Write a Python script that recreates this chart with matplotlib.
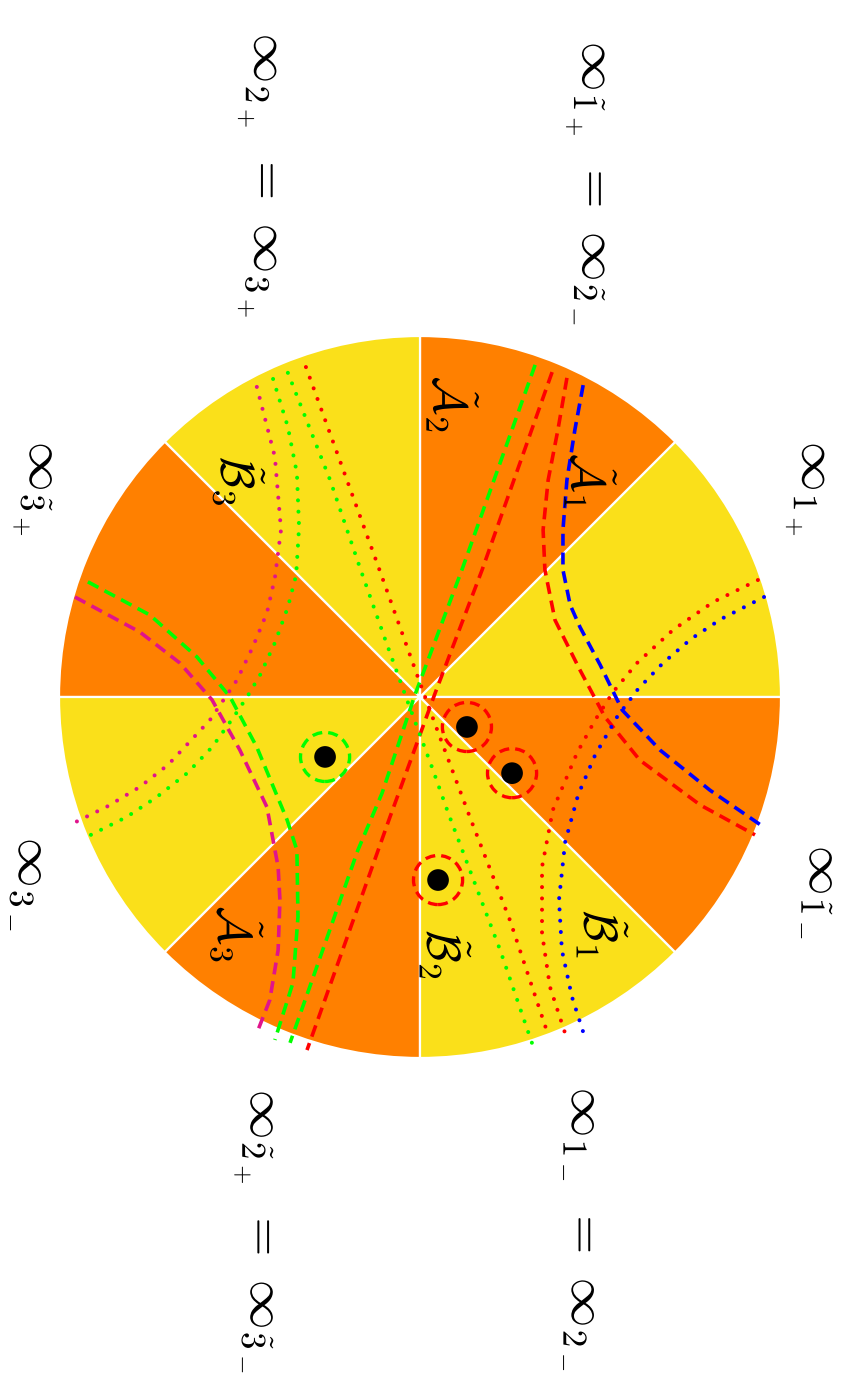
import matplotlib
matplotlib.use("Agg")
import matplotlib.pyplot as plt
import matplotlib.patheffects as pe
import numpy as np
from matplotlib.patches import Wedge, Circle

plt.rcParams["mathtext.fontset"] = "cm"

ORANGE = "#ff8000"
YELLOW = "#fae01a"
MAGENTA = "#e0148c"

# sector boundaries (degrees) and fill for each 45 degree slice
sector_starts = [0, 45, 90, 135, 180, 225, 270, 315]
sector_colors = [YELLOW, ORANGE, YELLOW, ORANGE, YELLOW, ORANGE, YELLOW, ORANGE]

# dashed curves, unit disk coordinates
blue_dashed_x = [0.452, 0.429, 0.407, 0.396, 0.396, 0.416, 0.443, 0.499, 0.560, 0.665, 0.803, 0.956]
blue_dashed_y = [0.864, 0.740, 0.601, 0.463, 0.352, 0.255, 0.194, 0.089, -0.036, -0.147, -0.258, -0.363]

red_dashed_bend_x = [0.407, 0.382, 0.355, 0.341, 0.346, 0.374, 0.443, 0.512, 0.609, 0.776, 0.928]
red_dashed_bend_y = [0.884, 0.740, 0.601, 0.463, 0.352, 0.213, 0.075, -0.055, -0.175, -0.299, -0.382]

red_dashed_line_x = [0.366, 0.172, 0.042, -0.083, -0.313]
red_dashed_line_y = [0.900, 0.352, 0.011, -0.332, -0.978]

green_dashed_line_x = [0.319, 0.116, -0.014, -0.105, -0.172, -0.360]
green_dashed_line_y = [0.920, 0.352, 0.006, -0.266, -0.424, -0.958]

green_dashed_bend_x = [-0.920, -0.748, -0.618, -0.526, -0.452, -0.368, -0.341, -0.338, -0.352, -0.402]
green_dashed_bend_y = [0.319, 0.227, 0.111, 0.000, -0.139, -0.341, -0.424, -0.609, -0.792, -0.950]

magenta_dashed_x = [-0.956, -0.776, -0.665, -0.576, -0.499, -0.424, -0.393, -0.388, -0.393, -0.416, -0.452]
magenta_dashed_y = [0.277, 0.180, 0.094, -0.008, -0.147, -0.305, -0.471, -0.562, -0.701, -0.839, -0.931]

# dotted curves
red_dotted_line_x = [-0.316, -0.119, -0.003, 0.055, 0.139, 0.249, 0.357]
red_dotted_line_y = [0.914, 0.371, 0.047, -0.111, -0.335, -0.618, -0.942]

green_dotted_line_x = [-0.366, -0.249, -0.166, -0.097, -0.039, 0.033, 0.078, 0.222, 0.310]
green_dotted_line_y = [0.898, 0.601, 0.357, 0.161, 0.000, -0.194, -0.321, -0.701, -0.958]

red_dotted_bend_x = [0.936, 0.812, 0.701, 0.601, 0.535, 0.485, 0.435, 0.368, 0.338, 0.338, 0.360, 0.407]
red_dotted_bend_y = [0.324, 0.263, 0.186, 0.094, 0.014, -0.064, -0.155, -0.313, -0.471, -0.654, -0.803, -0.947]

blue_dotted_x = [0.953, 0.834, 0.751, 0.673, 0.604, 0.546, 0.485, 0.438, 0.402, 0.385, 0.393, 0.421, 0.452]
blue_dotted_y = [0.277, 0.216, 0.161, 0.094, 0.022, -0.055, -0.161, -0.271, -0.402, -0.562, -0.701, -0.831, -0.928]

magenta_dotted_x = [-0.452, -0.402, -0.385, -0.402, -0.424, -0.463, -0.507, -0.582, -0.698, -0.776, -0.864, -0.953]
magenta_dotted_y = [0.859, 0.665, 0.463, 0.330, 0.233, 0.139, 0.047, -0.064, -0.188, -0.249, -0.302, -0.346]

green_dotted_bend_x = [-0.407, -0.366, -0.341, -0.335, -0.343, -0.366, -0.402, -0.443, -0.479, -0.518,
                       -0.576, -0.645, -0.729, -0.812, -0.934]
green_dotted_bend_y = [0.881, 0.748, 0.620, 0.471, 0.338, 0.249, 0.150, 0.061, 0.000, -0.058,
                       -0.139, -0.211, -0.277, -0.332, -0.393]

# marked points with the colour of their surrounding circle
point_x = [0.130, 0.255, 0.050, -0.263]
point_y = [-0.083, -0.211, -0.507, -0.166]
point_ring = ["red", "red", "red", "#00ff00"]

sector_labels = [r"$\tilde{\mathcal{A}}_1$", r"$\tilde{\mathcal{A}}_2$", r"$\tilde{\mathcal{A}}_3$",
                 r"$\tilde{\mathcal{B}}_1$", r"$\tilde{\mathcal{B}}_2$", r"$\tilde{\mathcal{B}}_3$"]
sector_label_x = [0.471, 0.089, -0.510, 0.504, 0.069, -0.504]
sector_label_y = [0.596, 0.809, -0.659, -0.659, -0.715, 0.596]

infinity_labels = [r"$\infty_{\tilde{1}_+}\ =\ \infty_{\tilde{2}_-}$",
                   r"$\infty_{2_+}\ =\ \infty_{3_+}$",
                   r"$\infty_{1_+}$",
                   r"$\infty_{\tilde{3}_+}$",
                   r"$\infty_{\tilde{1}_-}$",
                   r"$\infty_{3_-}$",
                   r"$\infty_{1_-}\ =\ \infty_{2_-}$",
                   r"$\infty_{\tilde{2}_+}\ =\ \infty_{\tilde{3}_-}$"]
infinity_x = [0.465, -0.443, 1.075, -1.066, 1.115, -1.075, 0.457, -0.454]
infinity_y = [1.421, 1.443, 0.575, 0.575, -0.543, -0.521, -1.476, -1.482]

fig = plt.figure(figsize=(8.52, 13.92), dpi=100)
ax = fig.add_axes([0, 0, 1, 1])
ax.set_xlim(-420 / 361, 432 / 361)
ax.set_ylim(-695 / 361, 697 / 361)
ax.axis("off")

for start, color in zip(sector_starts, sector_colors):
    ax.add_patch(Wedge((0, 0), 1.0, start, start + 45, facecolor=color,
                       edgecolor="white", linewidth=1.6, zorder=1))

dash = dict(linestyle=(0, (3.3, 1.9)), linewidth=2.6, dash_capstyle="butt", zorder=3)
dot = dict(linestyle=(0, (0.01, 2.8)), linewidth=2.9, dash_capstyle="round", zorder=3)

ax.plot(blue_dashed_x, blue_dashed_y, color="blue", **dash)
ax.plot(red_dashed_bend_x, red_dashed_bend_y, color="red", **dash)
ax.plot(red_dashed_line_x, red_dashed_line_y, color="red", **dash)
ax.plot(green_dashed_line_x, green_dashed_line_y, color="#00ff00", **dash)
ax.plot(green_dashed_bend_x, green_dashed_bend_y, color="#00ff00", **dash)
ax.plot(magenta_dashed_x, magenta_dashed_y, color=MAGENTA, **dash)

ax.plot(red_dotted_line_x, red_dotted_line_y, color="red", **dot)
ax.plot(green_dotted_line_x, green_dotted_line_y, color="#00ff00", **dot)
ax.plot(red_dotted_bend_x, red_dotted_bend_y, color="red", **dot)
ax.plot(blue_dotted_x, blue_dotted_y, color="blue", **dot)
ax.plot(magenta_dotted_x, magenta_dotted_y, color=MAGENTA, **dot)
ax.plot(green_dotted_bend_x, green_dotted_bend_y, color="#00ff00", **dot)

for px, py, ring in zip(point_x, point_y, point_ring):
    ax.add_patch(Circle((px, py), 0.068, fill=False, edgecolor=ring, linewidth=2.4,
                        linestyle=(0, (3.0, 1.8)), zorder=4))
    ax.add_patch(Circle((px, py), 0.03, facecolor="black", edgecolor="none", zorder=5))

# path effects make the glyphs go out as outlines, so thin sub-subscripts survive
as_path = [pe.Normal()]

for text, tx, ty in zip(sector_labels, sector_label_x, sector_label_y):
    ax.text(tx, ty, text, rotation=-90, ha="center", va="center", fontsize=34,
            zorder=6, path_effects=as_path)

for text, tx, ty in zip(infinity_labels, infinity_x, infinity_y):
    ax.text(tx, ty, text, rotation=-90, ha="center", va="center", fontsize=36,
            zorder=6, path_effects=as_path)

fig.savefig("out.png", dpi=100)
